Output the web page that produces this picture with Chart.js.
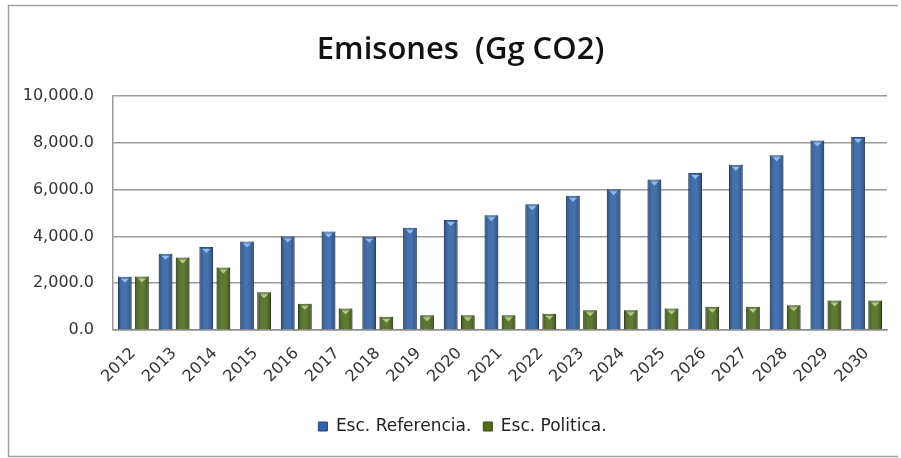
<!DOCTYPE html>
<html>
<head>
<meta charset="utf-8">
<script src="https://cdn.jsdelivr.net/npm/chart.js@4.4.1/dist/chart.umd.min.js"></script>
<style>
  html, body { margin: 0; padding: 0; background: #fff; }
  #wrap { position: relative; width: 901px; height: 458px; }
</style>
</head>
<body>
<div id="wrap"><canvas id="emisiones" width="901" height="458"></canvas></div>
<script>
// Emisiones por escenario, 2012-2030 (Gg CO2)
const years = ['2012', '2013', '2014', '2015', '2016', '2017', '2018', '2019', '2020', '2021',
               '2022', '2023', '2024', '2025', '2026', '2027', '2028', '2029', '2030'];
const escReferencia = [2280, 3260, 3550, 3790, 4000, 4210, 3990, 4370, 4700, 4910,
                       5380, 5740, 6020, 6440, 6720, 7070, 7470, 8100, 8250];
const escPolitica = [2290, 3100, 2670, 1610, 1120, 920, 570, 630, 630, 630,
                     700, 850, 850, 920, 990, 990, 1060, 1260, 1260];
const yTicks = [0, 2000, 4000, 6000, 8000, 10000];

// marco exterior del grafico
const marco = {
    id: 'marco',
    beforeDraw(chart) {
        const c = chart.ctx;
        c.save();
        c.strokeStyle = '#a0a0a0';
        c.lineWidth = 1.5;
        c.beginPath();
        c.moveTo(898, 5.5);
        c.lineTo(8.5, 5.5);
        c.lineTo(8.5, 456.5);
        c.lineTo(898, 456.5);
        c.stroke();
        c.restore();
    }
};

// titulo y leyenda un poco a la derecha, centrados sobre el area de barras
const centrado = {
    id: 'centrado',
    afterLayout(chart) {
        chart.titleBlock.left += 13;
        chart.titleBlock.right += 13;
        chart.legend.left += 15;
        chart.legend.right += 15;
    }
};

// brillo tipo cilindro sobre cada barra
const brillo = {
    id: 'brillo',
    afterDatasetsDraw(chart) {
        const c = chart.ctx;
        chart.data.datasets.forEach(function (ds, i) {
            const meta = chart.getDatasetMeta(i);
            if (meta.hidden) return;
            meta.data.forEach(function (bar) {
                const p = bar.getProps(['x', 'y', 'base', 'width'], true);
                const left = p.x - p.width / 2;
                const g = c.createLinearGradient(left, 0, left + p.width, 0);
                g.addColorStop(0, 'rgba(0,0,0,0.30)');
                g.addColorStop(0.45, 'rgba(255,255,255,0.08)');
                g.addColorStop(1, 'rgba(0,0,0,0.32)');
                c.save();
                c.fillStyle = g;
                c.fillRect(left, p.y, p.width, p.base - p.y);
                // tapa clara en forma de v
                c.fillStyle = ds.capColor;
                c.beginPath();
                c.moveTo(p.x - p.width * 0.3, p.y + 2);
                c.lineTo(p.x + p.width * 0.3, p.y + 2);
                c.lineTo(p.x, p.y + 6);
                c.closePath();
                c.fill();
                c.restore();
            });
        });
    }
};

const ctx = document.getElementById('emisiones').getContext('2d');
const chart = new Chart(ctx, {
    type: 'bar',
    data: {
        labels: years,
        datasets: [{
            label: 'Esc. Referencia.',
            data: escReferencia,
            backgroundColor: '#3264a8',
            borderColor: '#21477e',
            borderWidth: 1,
            capColor: 'rgba(150,195,245,0.9)'
        }, {
            label: 'Esc. Politica.',
            data: escPolitica,
            backgroundColor: '#506e1e',
            borderColor: '#34491a',
            borderWidth: 1,
            capColor: 'rgba(185,210,135,0.9)'
        }]
    },
    plugins: [marco, centrado, brillo],
    options: {
        responsive: false,
        animation: false,
        layout: { padding: { left: 8, right: 14, top: 0, bottom: 13 } },
        datasets: {
            bar: { categoryPercentage: 0.84, barPercentage: 0.8 }
        },
        scales: {
            x: {
                grid: { display: false, drawTicks: false },
                border: { display: true, color: '#8c8c8c', width: 1.5 },
                ticks: {
                    minRotation: 45,
                    maxRotation: 45,
                    padding: 14,
                    color: '#333',
                    font: { family: 'DejaVu Sans', size: 16 }
                },
                afterFit: function (scale) { scale.height = 76; }
            },
            y: {
                min: 0,
                max: 10000,
                afterBuildTicks: function (scale) {
                    scale.ticks = yTicks.map(v => ({ value: v }));
                },
                grid: { color: '#9a9a9a', lineWidth: 1.5, drawTicks: false },
                border: { display: true, color: '#9a9a9a', width: 1.5 },
                ticks: {
                    padding: 19,
                    color: '#333',
                    font: { family: 'DejaVu Sans', size: 16 },
                    callback: function (v) {
                        return v.toLocaleString('en-US', { minimumFractionDigits: 1, maximumFractionDigits: 1 });
                    }
                },
                afterFit: function (scale) { scale.width = 105; }
            }
        },
        plugins: {
            title: {
                display: true,
                text: 'Emisones  (Gg CO2)',
                color: '#111',
                font: { family: 'Open Sans', size: 31, weight: '600' },
                padding: { top: 32, bottom: 27 }
            },
            legend: {
                position: 'bottom',
                labels: {
                    boxWidth: 9,
                    boxHeight: 9,
                    padding: 12,
                    color: '#222',
                    font: { family: 'DejaVu Sans', size: 17 }
                }
            },
            tooltip: { enabled: false }
        }
    }
});
</script>
</body>
</html>
